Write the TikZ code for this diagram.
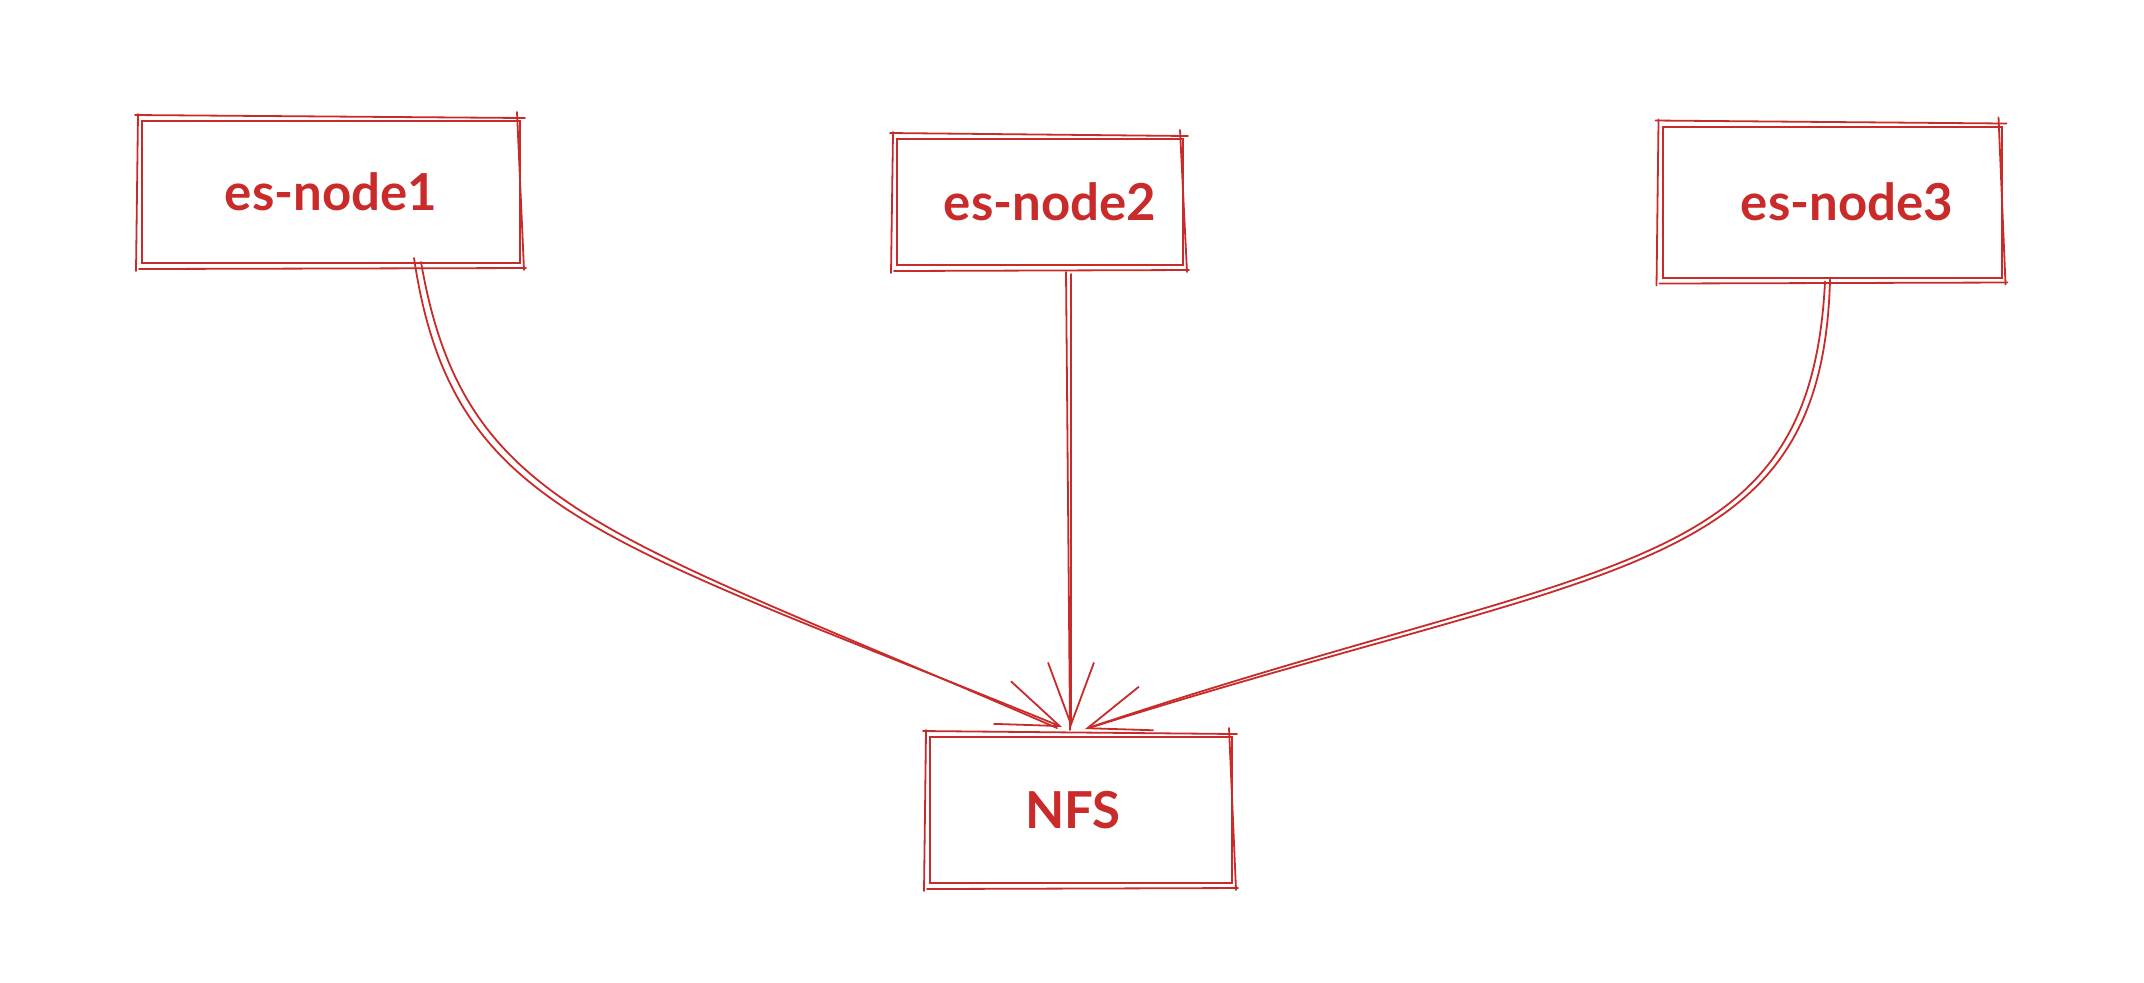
\documentclass[tikz,border=0pt]{standalone}
\usepackage{fontspec}
\setmainfont{Lato}
\usetikzlibrary{arrows.meta}
\definecolor{sketchred}{HTML}{C92A2A}
\tikzstyle{box}=[rectangle, draw=sketchred, line width=0.2mm, text=sketchred, font=\fontsize{14.5}{18}\selectfont\bfseries, inner sep=0pt, anchor=center]
\tikzstyle{stroke}=[draw=sketchred, line width=0.18mm, line cap=round]
\tikzstyle{link}=[stroke, -{Straight Barb[length=6.2mm, width=4.6mm]}]
% second, slightly crooked pass round a box
\newcommand{\roughframe}[1]
{
  \draw[stroke] ([shift={(-6,-5)}]#1.north west) -- ([shift={(4,-2)}]#1.north east);
  \draw[stroke] ([shift={(-4,-8)}]#1.north east) -- ([shift={(3,6)}]#1.south east);
  \draw[stroke] ([shift={(5,4)}]#1.south east) -- ([shift={(-2,5)}]#1.south west);
  \draw[stroke] ([shift={(-5,7)}]#1.south west) -- ([shift={(-3,-6)}]#1.north west);
}

\begin{document}
\begin{tikzpicture}[x=0.1mm, y=-0.1mm]
	\useasboundingbox (0,0) rectangle (2144,982);

	\node[box, minimum width=37.8mm, minimum height=14.2mm](esnode1) at (331,192){es-node1};
	\node[box, minimum width=28.6mm, minimum height=12.6mm](esnode2) at (1040,202){\hspace*{2mm}es-node2};
	\node[box, minimum width=33.9mm, minimum height=15.1mm](esnode3) at (1832,202){\hspace*{3mm}es-node3};
	\node[box, minimum width=30.2mm, minimum height=14.6mm](nfs) at (1081,810){NFS\hspace*{1.6mm}};

	\roughframe{esnode1}
	\roughframe{esnode2}
	\roughframe{esnode3}
	\roughframe{nfs}

	% es-node1 -> NFS
	\draw[link] ([xshift=8.3mm, yshift=0.6mm]esnode1.south) .. controls (452,512) and (598,537) .. ([xshift=-1.9mm, yshift=0.9mm]nfs.north);
	\draw[stroke] ([xshift=9.0mm, yshift=0.2mm]esnode1.south) .. controls (464,510) and (604,530) .. ([xshift=-2.4mm, yshift=0.8mm]nfs.north);
	% es-node2 -> NFS
	\draw[link] ([xshift=3.1mm, yshift=-0.8mm]esnode2.south) -- ([xshift=-1.0mm, yshift=0.9mm]nfs.north);
	\draw[stroke] ([xshift=2.6mm, yshift=-0.6mm]esnode2.south) -- ([xshift=-1.1mm, yshift=0.6mm]nfs.north);
	% es-node3 -> NFS
	\draw[link] ([xshift=-0.7mm, yshift=-0.3mm]esnode3.south) .. controls (1810,582) and (1606,554) .. ([xshift=0.4mm, yshift=0.7mm]nfs.north);
	\draw[stroke] ([xshift=-0.2mm, yshift=-0.1mm]esnode3.south) .. controls (1822,578) and (1614,562) .. ([xshift=0.8mm, yshift=0.8mm]nfs.north);
\end{tikzpicture}
\end{document}
